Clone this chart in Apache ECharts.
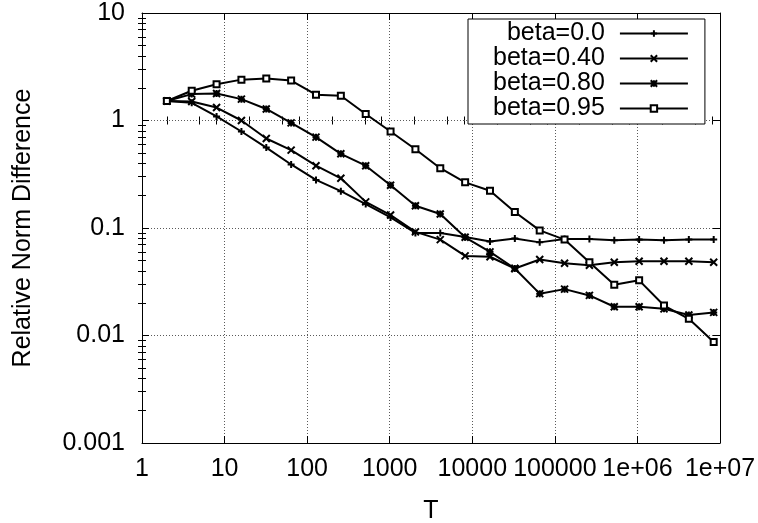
<!DOCTYPE html>
<html>
<head>
<meta charset="utf-8">
<script src="https://cdn.jsdelivr.net/npm/echarts@6/dist/echarts.min.js"></script>
<style>
  html, body { margin: 0; padding: 0; background: #fff; }
  #chart { width: 758px; height: 523px; }
</style>
</head>
<body>
<div id="chart"></div>
<script>
// Sample sizes T = 2^1 .. 2^23
const T = [2, 4, 8, 16, 32, 64, 128, 256, 512, 1024, 2048, 4096, 8192, 16384,
  32768, 65536, 131072, 262144, 524288, 1048576, 2097152, 4194304, 8388608];

// Relative norm difference for each beta
const beta00 = [1.52, 1.46, 1.09, 0.79, 0.56, 0.39, 0.28, 0.22, 0.167, 0.1255, 0.090, 0.090,
  0.0825, 0.075, 0.080, 0.0735, 0.079, 0.079, 0.077, 0.078, 0.077, 0.078, 0.078];
const beta040 = [1.52, 1.50, 1.32, 1.00, 0.68, 0.53, 0.38, 0.29, 0.175, 0.132, 0.092, 0.078,
  0.055, 0.054, 0.042, 0.051, 0.047, 0.045, 0.048, 0.049, 0.049, 0.049, 0.048];
const beta080 = [1.52, 1.76, 1.78, 1.58, 1.28, 0.95, 0.70, 0.49, 0.38, 0.25, 0.161, 0.135,
  0.082, 0.060, 0.042, 0.0245, 0.027, 0.0236, 0.0185, 0.0185, 0.0177, 0.0155, 0.0164];
const beta095 = [1.52, 1.89, 2.17, 2.40, 2.46, 2.35, 1.74, 1.70, 1.15, 0.79, 0.54, 0.36,
  0.266, 0.222, 0.141, 0.095, 0.078, 0.048, 0.0297, 0.0326, 0.019, 0.0143, 0.0087];

const seriesNames = ['beta=0.0', 'beta=0.40', 'beta=0.80', 'beta=0.95'];
const xTickLabels = ['1', '10', '100', '1000', '10000', '100000', '1e+06', '1e+07'];
const yTickLabels = ['0.001', '0.01', '0.1', '1', '10'];
const xMinorMultipliers = [2, 5, 8];
const yMinorMultipliers = [2, 3, 4, 5, 6, 7, 8, 9];

const FONT = 'Liberation Sans, Arial, Helvetica, sans-serif';
const FONT_SIZE = 25;
const BLACK = '#000';

// minor tick positions expressed in log10 space
const xMinorLog = [];
for (let d = 0; d < 7; d++) xMinorMultipliers.forEach(k => xMinorLog.push(d + Math.log10(k)));
const yMinorLog = [];
for (let d = -3; d < 1; d++) yMinorMultipliers.forEach(k => yMinorLog.push(d + Math.log10(k)));

const symbols = [
  'emptyPath://M5,0L5,10M0,5L10,5',                               // plus
  'emptyPath://M0,0L10,10M10,0L0,10',                             // cross
  'emptyPath://M5,0L5,10M0,5L10,5M0,0L10,10M10,0L0,10',           // asterisk
  'emptyRect'                                                     // open square
];
const symbolSizes = [7, 7, 7, 6];
const values = [beta00, beta040, beta080, beta095];

function logAxisBase(pos, showLabels) {
  return {
    type: 'log', logBase: 10, position: pos,
    axisLine: { show: true, onZero: false, lineStyle: { color: BLACK, width: 1 } },
    axisTick: { show: true, inside: true, length: 7, lineStyle: { color: BLACK, width: 1 } },
    axisLabel: { show: showLabels },
    splitLine: { show: false },
    minorTick: { show: false }
  };
}
function minorAxis(pos, min, max, ticks) {
  return {
    type: 'value', position: pos, min: min, max: max,
    axisLine: { show: false },
    axisTick: { show: true, inside: true, length: 4, customValues: ticks,
      lineStyle: { color: BLACK, width: 1 } },
    axisLabel: { show: false },
    splitLine: { show: false }
  };
}

const gridLine = { show: true, lineStyle: { color: '#5a5a5a', width: 1, type: [1, 2] } };

const xMain = Object.assign(logAxisBase('bottom', true), {
  min: 1, max: 1e7, splitNumber: 7,
  name: 'T', nameLocation: 'middle', nameGap: 56,
  nameTextStyle: { fontFamily: FONT, fontSize: FONT_SIZE, color: BLACK },
  axisLabel: { show: true, fontFamily: FONT, fontSize: FONT_SIZE, color: BLACK, margin: 14,
    formatter: v => xTickLabels[Math.round(Math.log10(v))] },
  splitLine: gridLine
});
const xTop = Object.assign(logAxisBase('top', false), { min: 1, max: 1e7, splitNumber: 7 });

const yMain = Object.assign(logAxisBase('left', true), {
  min: 0.001, max: 10, splitNumber: 4,
  name: 'Relative Norm Difference', nameLocation: 'middle', nameGap: 106,
  nameTextStyle: { fontFamily: FONT, fontSize: FONT_SIZE, color: BLACK },
  axisLabel: { show: true, fontFamily: FONT, fontSize: FONT_SIZE, color: BLACK, margin: 17,
    padding: [4, 0, 0, 0],
    formatter: v => yTickLabels[Math.round(Math.log10(v)) + 3] },
  splitLine: gridLine
});
const yRight = Object.assign(logAxisBase('right', false), { min: 0.001, max: 10, splitNumber: 4 });

const option = {
  animation: false,
  backgroundColor: '#fff',
  textStyle: { fontFamily: FONT },
  grid: { left: 142, right: 38, top: 13, bottom: 80, containLabel: false, outerBoundsMode: 'none' },
  xAxis: [
    xMain, xTop,
    minorAxis('bottom', 0, 7, xMinorLog),
    minorAxis('top', 0, 7, xMinorLog)
  ],
  yAxis: [
    yMain, yRight,
    minorAxis('left', -3, 1, yMinorLog),
    minorAxis('right', -3, 1, yMinorLog)
  ],
  legend: {
    left: 468, top: 19, orient: 'vertical', align: 'right',
    backgroundColor: '#fff', borderColor: BLACK, borderWidth: 1, borderRadius: 0,
    padding: [2, 16, 3, 25], itemGap: 0, itemWidth: 68, itemHeight: 8,
    textStyle: { fontFamily: FONT, fontSize: FONT_SIZE, color: BLACK, lineHeight: 25, padding: [0, 10, 0, 0] },
    data: seriesNames
  },
  series: seriesNames.map((name, s) => ({
    name: name,
    type: 'line',
    xAxisIndex: 0, yAxisIndex: 0,
    data: T.map((t, i) => [t, values[s][i]]),
    symbol: symbols[s],
    symbolSize: symbolSizes[s],
    showAllSymbol: true,
    itemStyle: { color: BLACK },
    lineStyle: { color: BLACK, width: 2 },
    emphasis: { disabled: true }
  }))
};

const chart = echarts.init(document.getElementById('chart'), null, { renderer: 'canvas' });
chart.setOption(option);
</script>
</body>
</html>
